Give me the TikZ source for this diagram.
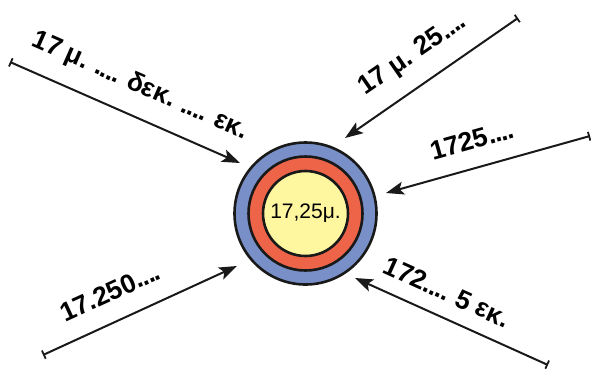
\documentclass[tikz,border=0pt]{standalone}
\usepackage{fontspec}
\setmainfont{Liberation Sans}
\usetikzlibrary{arrows.meta}
\definecolor{ringblue}{RGB}{120,143,200}
\definecolor{ringred}{RGB}{238,100,72}
\definecolor{coreyellow}{RGB}{255,246,160}
% a run of four tightly set dots
\newcommand{\dotrun}{.\kern-0.04em.\kern-0.04em.\kern-0.04em.}
\begin{document}
\begin{tikzpicture}[x=1pt,y=-1pt,
  ring/.style={circle,draw=black!90,line width=2.6pt,inner sep=0pt},
  lbl/.style={font=\fontsize{26.5}{28}\selectfont\bfseries,inner sep=0pt,
    execute at begin node={\spaceskip=0.24em\relax}},
  pointer/.style={line width=2pt,draw=black!90,fill=black!90,
    {Bar[width=9pt,line width=1.8pt]}-{Stealth[length=18pt,width=13pt,inset=4pt]}}]
  \useasboundingbox (0,0) rectangle (591,368);

  % concentric rings
  \node[ring,fill=ringblue,minimum size=142pt] (outer) at (305.5,213.5) {};
  \node[ring,fill=ringred,minimum size=114pt] (middle) at (outer.center) {};
  \node[ring,fill=coreyellow,minimum size=85pt,
        font=\fontsize{21}{23}\selectfont] (core) at (outer.center) {17,25μ.};

  % free ends of the pointers
  \coordinate (s1) at (10,62);   \coordinate (t1) at (240,163);
  \coordinate (s2) at (518,18);  \coordinate (t2) at (345,138);
  \coordinate (s3) at (590,136); \coordinate (t3) at (386,193);
  \coordinate (s4) at (43,355);  \coordinate (t4) at (237,266);
  \coordinate (s5) at (548,365); \coordinate (t5) at (355,278);

  \draw[pointer] (s1) -- (t1);
  \draw[pointer] (s2) -- (t2);
  \draw[pointer] (s3) -- (t3);
  \draw[pointer] (s4) -- (t4);
  \draw[pointer] (s5) -- (t5);

  % labels
  \node[lbl,rotate=-23.7] (l1) at (140,86) {17 μ. \dotrun{} δεκ. \dotrun{} εκ.};
  \node[lbl,rotate=34.7] (l2) at (413,55) {17 μ. 25\dotrun};
  \node[lbl,rotate=15.6] (l3) at (472,140) {1725\dotrun};
  \node[lbl,rotate=24.6] (l4) at (110,292) {17.250\dotrun};
  \node[lbl,rotate=-24.3] (l5) at (447,292) {172\dotrun{} 5 εκ.};
\end{tikzpicture}
\end{document}
